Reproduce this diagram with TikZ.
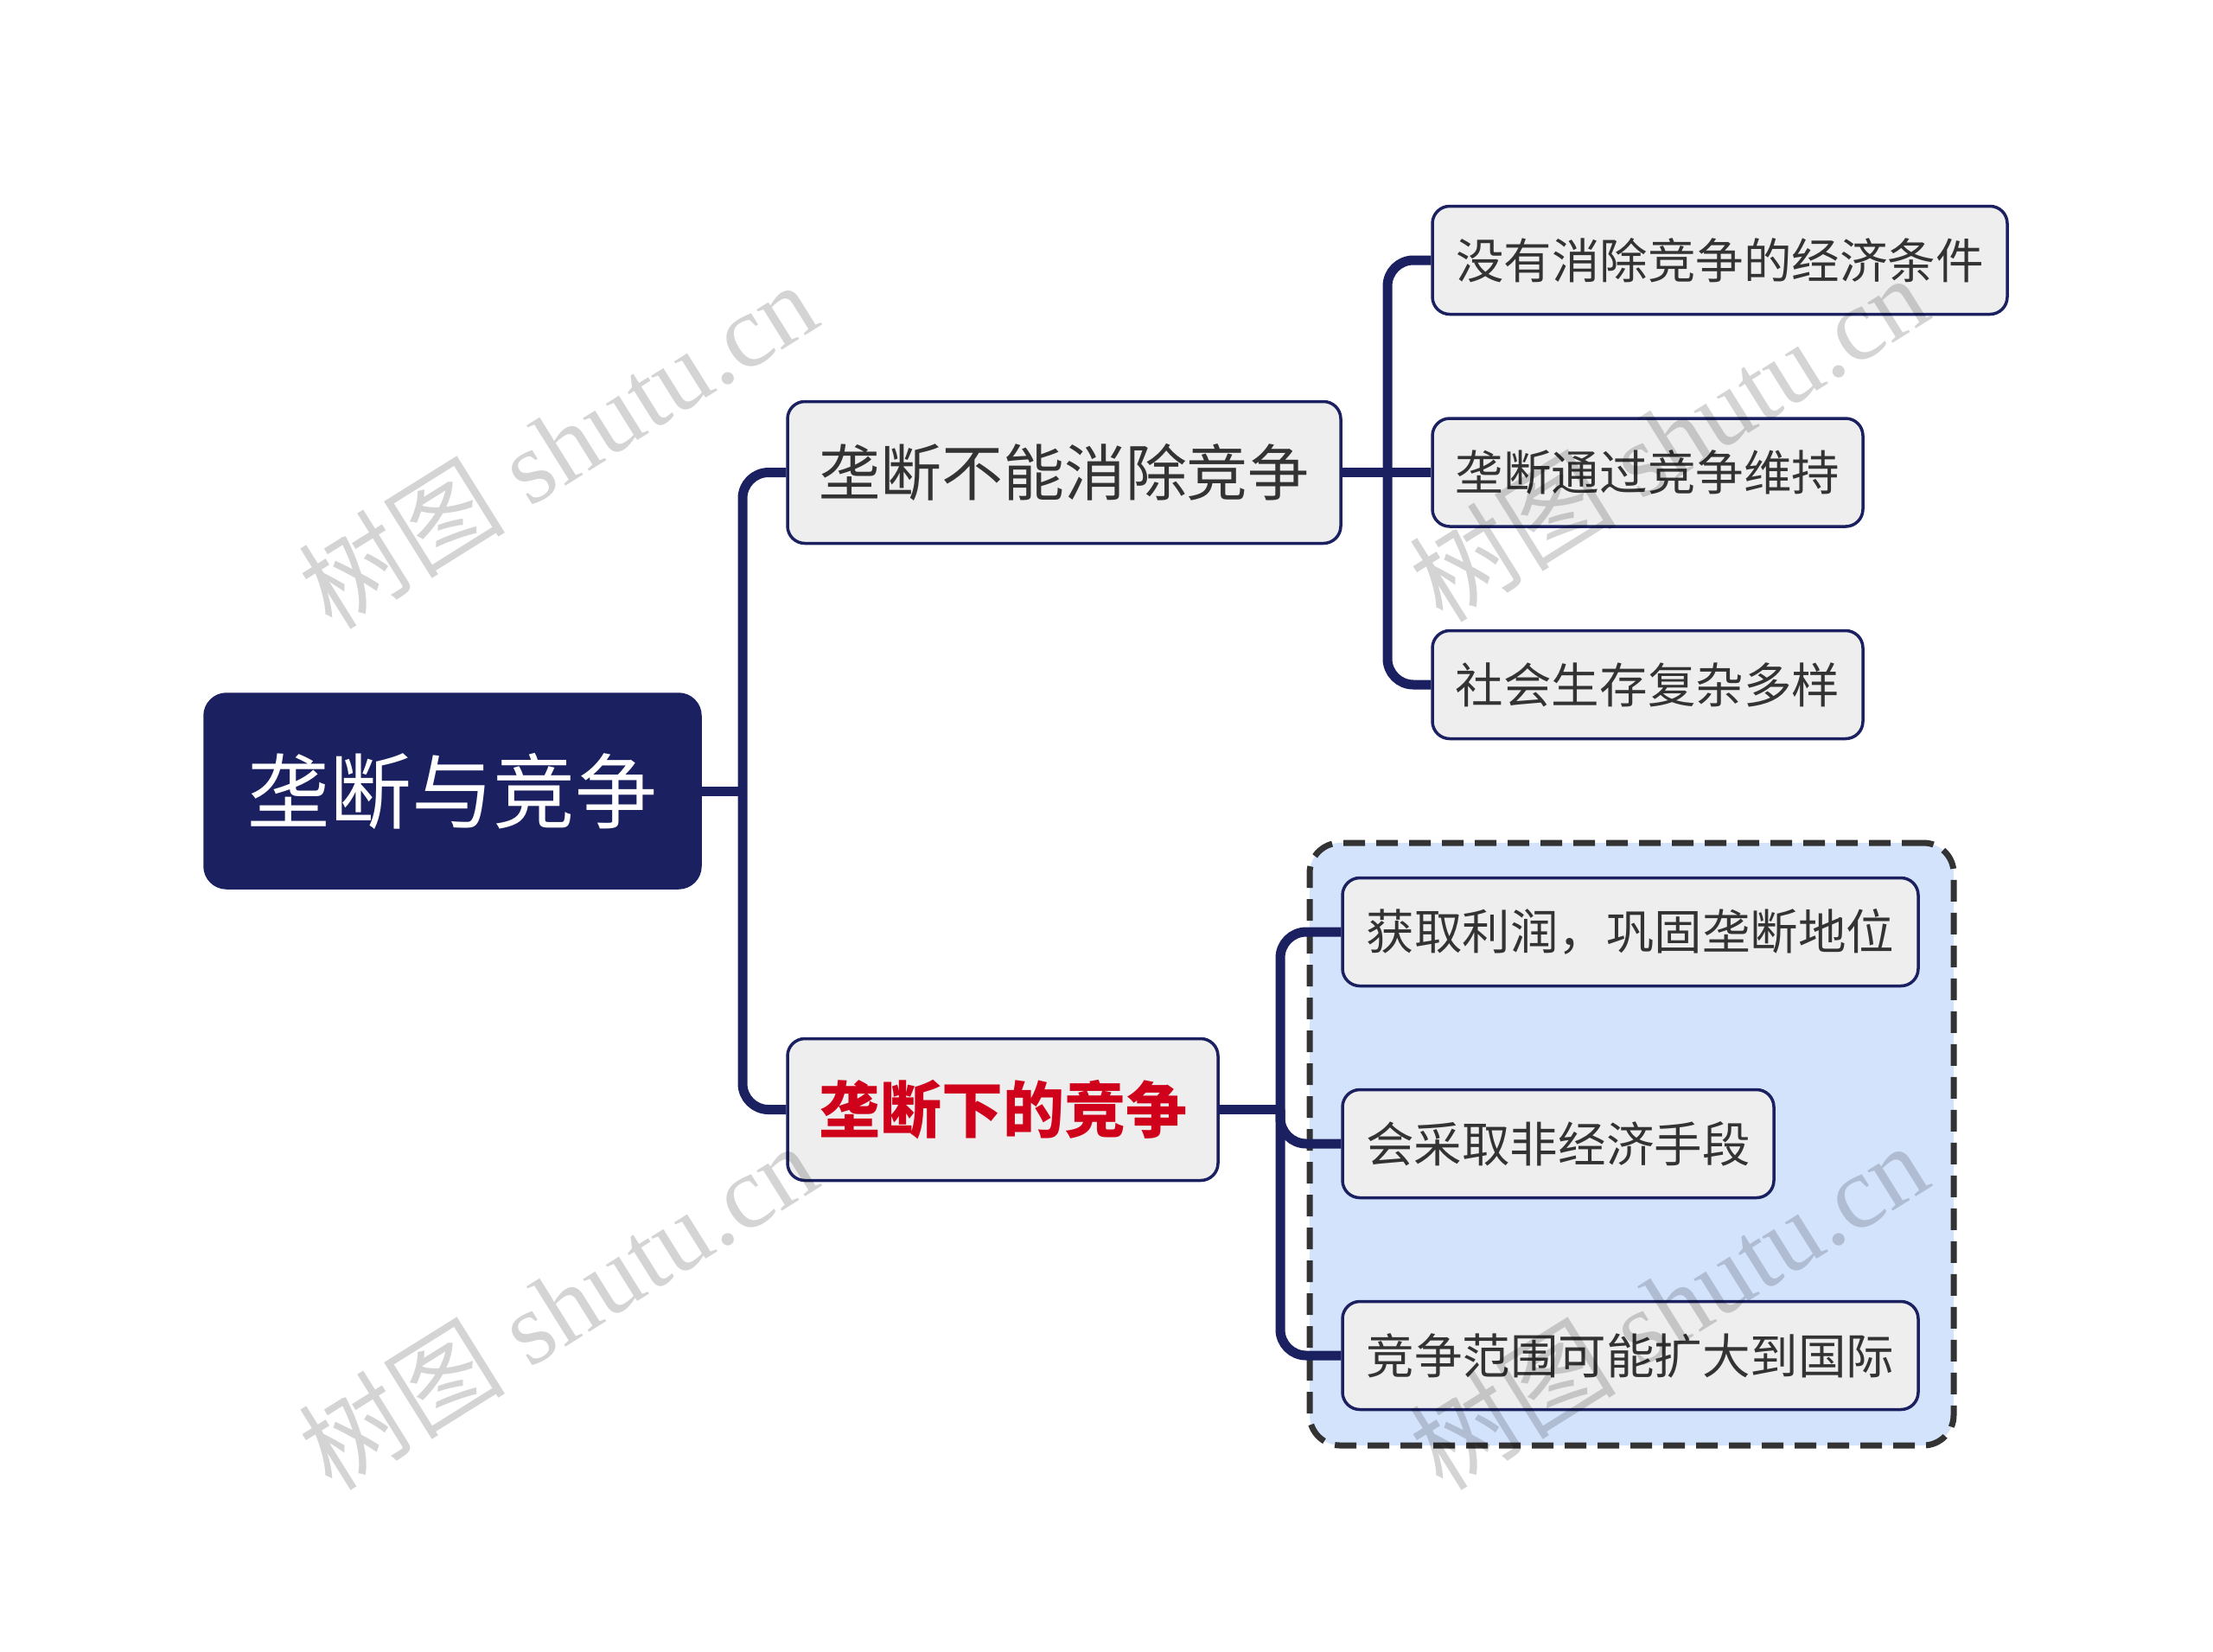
\documentclass[tikz,border=0pt]{standalone}
\usepackage{fontspec}
\newfontfamily\cjk{Noto Sans CJK SC}
\newfontfamily\wmserif{Liberation Serif}
\definecolor{navy}{RGB}{26,32,96}
\definecolor{nodefill}{RGB}{238,238,238}
\definecolor{txt}{RGB}{51,51,51}
\definecolor{redt}{RGB}{208,2,27}
\definecolor{grpfill}{RGB}{211,227,252}
\definecolor{grpline}{RGB}{51,51,51}
\pgfdeclarelayer{bg}
\pgfdeclarelayer{wm}
\pgfsetlayers{bg,main,wm}
\tikzset{
  leaf/.style={draw=navy, line width=0.035cm, fill=nodefill, rounded corners=0.2cm,
    text=txt, font=\cjk\fontsize{15.8}{18}\selectfont, minimum height=1.25cm, inner sep=0pt},
  mid/.style={leaf, font=\cjk\fontsize{20.2}{24}\selectfont, minimum height=1.64cm},
  rootbox/.style={draw=navy, line width=0.035cm, fill=navy, rounded corners=0.25cm,
    text=white, font=\cjk\fontsize{27}{32}\selectfont, minimum width=5.73cm,
    minimum height=2.24cm, inner sep=0pt},
  grpbox/.style={draw=grpline, fill=grpfill, line width=0.07cm,
    dash pattern=on 0.25cm off 0.13cm, rounded corners=0.35cm,
    minimum width=7.45cm, minimum height=6.97cm, inner sep=0pt},
  conn/.style={draw=navy, line width=0.11cm},
  rc/.style={rounded corners=0.3cm},
  wmark/.style={text=black, text opacity=0.17, font=\wmserif\fontsize{34}{38}\selectfont,
    inner sep=0pt, rotate=32}
}
\begin{document}
\begin{tikzpicture}
\useasboundingbox (0,0) rectangle (25.6,-19.1);

\begin{pgfonlayer}{bg}
\fill[white] (0,0) rectangle (25.6,-19.1);
\node[grpbox] (grp) at (18.875,-13.235) {};
\end{pgfonlayer}

\node[rootbox] (root) at (5.235,-9.15) {垄断与竞争};
\node[mid, minimum width=6.40cm] (A) at (12.31,-5.465) {垄断不能消除竞争};
\node[mid, minimum width=4.98cm, text=redt, font=\cjk\bfseries\fontsize{20.2}{24}\selectfont] (B) at (11.60,-12.835) {垄断下的竞争};
\node[leaf, minimum width=6.65cm] (A1) at (19.895,-3.01) {没有消除竞争的经济条件};
\node[leaf, minimum width=4.98cm] (A2) at (19.06,-5.465) {垄断通过竞争维持};
\node[leaf, minimum width=4.98cm] (A3) at (19.06,-7.92) {社会生存复杂多样};
\node[leaf, minimum width=6.66cm] (B1) at (18.86,-10.78) {获取利润，巩固垄断地位};
\node[leaf, minimum width=4.99cm] (B2) at (18.025,-13.23) {会采取非经济手段};
\node[leaf, minimum width=6.66cm] (B3) at (18.86,-15.68) {竞争范围可能扩大到国际};

\coordinate (t0) at (8.59,-9.15);
\coordinate (tA) at (16.05,-5.465);
\coordinate (tB) at (14.81,-12.835);

\begin{pgfonlayer}{bg}
\draw[conn] (root.east) -- (t0);
\draw[conn, rc] (A.west) -| (t0) |- (B.west);
\draw[conn] (A.east) -- (tA);
\draw[conn, rc] (A1.west) -| (tA) |- (A3.west);
\draw[conn] (tA) -- (A2.west);
\draw[conn] (B.east) -- (tB);
\draw[conn, rc] (B1.west) -| (tB) |- (B3.west);
\draw[conn, rc] (tB) |- (B2.west);
\end{pgfonlayer}

\begin{pgfonlayer}{wm}
\node[wmark] (w1) at (6.45,-5.14) {{\cjk 树图} shutu.cn};
\node[wmark] (w2) at (6.45,-15.10) {{\cjk 树图} shutu.cn};
\node[wmark] (w3) at (19.30,-5.06) {{\cjk 树图} shutu.cn};
\node[wmark] (w4) at (19.30,-15.10) {{\cjk 树图} shutu.cn};
\end{pgfonlayer}
\end{tikzpicture}
\end{document}
